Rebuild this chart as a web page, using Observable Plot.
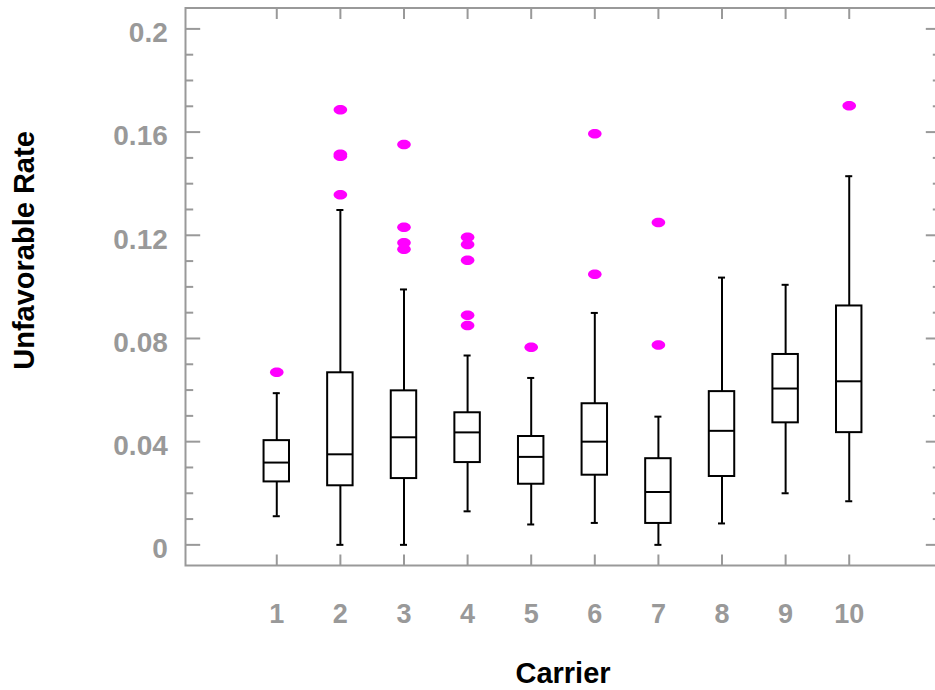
<!DOCTYPE html>
<html>
<head>
<meta charset="utf-8">
<script src="https://cdn.jsdelivr.net/npm/d3@7"></script>
<script src="https://cdn.jsdelivr.net/npm/@observablehq/plot@0.6"></script>
<style>
html, body { margin: 0; padding: 0; background: #fff; overflow: hidden; }
</style>
</head>
<body>
<div id="chart"></div>
<script>
// ---- data ----
const carriers     = [1, 2, 3, 4, 5, 6, 7, 8, 9, 10];
const whiskerLow   = [0.0111, 0.0000, 0.0000, 0.0130, 0.0079, 0.0085, 0.0000, 0.0083, 0.0200, 0.0169];
const quartile1    = [0.0244, 0.0229, 0.0257, 0.0319, 0.0235, 0.0270, 0.0083, 0.0265, 0.0473, 0.0435];
const medians      = [0.0319, 0.0351, 0.0417, 0.0436, 0.0341, 0.0400, 0.0205, 0.0442, 0.0606, 0.0634];
const quartile3    = [0.0404, 0.0667, 0.0597, 0.0512, 0.0420, 0.0547, 0.0334, 0.0594, 0.0738, 0.0926];
const whiskerHigh  = [0.0588, 0.1298, 0.0990, 0.0734, 0.0647, 0.0899, 0.0497, 0.1036, 0.1008, 0.1429];

const outlierCarrier = [1, 2, 2, 2, 2, 3, 3, 3, 3, 4, 4, 4, 4, 4, 5, 6, 6, 7, 7, 10];
const outlierValue   = [0.0669, 0.1357, 0.1506, 0.1514, 0.1687, 0.1146, 0.1171, 0.1231, 0.1552,
                        0.0850, 0.0890, 0.1103, 0.1164, 0.1192, 0.0766, 0.1049, 0.1594, 0.0775, 0.1250, 0.1702];

const yTickValues = [0, 0.04, 0.08, 0.12, 0.16, 0.2];
const yTickLabels = ["0", "0.04", "0.08", "0.12", "0.16", "0.2"];
const yMinorTicks = [0.01, 0.02, 0.03, 0.05, 0.06, 0.07, 0.09, 0.10, 0.11, 0.13, 0.14, 0.15, 0.17, 0.18, 0.19];
const xTickLabels = ["1", "2", "3", "4", "5", "6", "7", "8", "9", "10"];
const xTitle = "Carrier";
const yTitle = "Unfavorable Rate";

// ---- tables built from the arrays ----
const stats = carriers.map((c, i) => ({
  carrier: c, lo: whiskerLow[i], q1: quartile1[i], med: medians[i], q3: quartile3[i], hi: whiskerHigh[i]
}));
const outliers = outlierCarrier.map((c, i) => ({carrier: c, value: outlierValue[i]}));

// ---- styles ----
const GRAY = "#999999";
const FONT = "'Liberation Sans', Arial, Helvetica, sans-serif";

const ellipse = {
  draw(ctx, size) {
    const r = Math.sqrt(size / Math.PI);
    const rx = r * 1.36, ry = r * 0.95, k = 0.5523;
    ctx.moveTo(rx, 0);
    ctx.bezierCurveTo(rx, ry * k, rx * k, ry, 0, ry);
    ctx.bezierCurveTo(-rx * k, ry, -rx, ry * k, -rx, 0);
    ctx.bezierCurveTo(-rx, -ry * k, -rx * k, -ry, 0, -ry);
    ctx.bezierCurveTo(rx * k, -ry, rx, -ry * k, rx, 0);
    ctx.closePath();
  }
};
const lineSym = (dx, dy) => ({ draw(ctx) { ctx.moveTo(0, 0); ctx.lineTo(dx, dy); } });

const tickStyle = {fill: "none", stroke: GRAY, strokeWidth: 2, r: 3};

const chart = Plot.plot({
  width: 935,
  height: 690,
  marginLeft: 185,
  marginRight: -5,
  marginTop: 7.5,
  marginBottom: 125,
  style: {background: "#fff", fontFamily: FONT},
  x: {type: "band", domain: carriers, paddingInner: 0.6, paddingOuter: 1.235, round: false, axis: null},
  y: {domain: [-0.008, 0.2081], axis: null},
  marks: [
    Plot.frame({stroke: GRAY, strokeWidth: 2}),
    // inward ticks on the frame
    Plot.dot(yTickValues, {y: d => d, frameAnchor: "left", symbol: lineSym(14.7, 0), ...tickStyle}),
    Plot.dot(yMinorTicks, {y: d => d, frameAnchor: "left", symbol: lineSym(7.7, 0), ...tickStyle}),
    Plot.dot(yTickValues, {y: d => d, frameAnchor: "right", symbol: lineSym(-14.7, 0), ...tickStyle}),
    Plot.dot(yMinorTicks, {y: d => d, frameAnchor: "right", symbol: lineSym(-7.7, 0), ...tickStyle}),
    Plot.dot(carriers, {x: d => d, frameAnchor: "top", symbol: lineSym(0, 11), ...tickStyle}),
    Plot.dot(carriers, {x: d => d, frameAnchor: "bottom", symbol: lineSym(0, -11), ...tickStyle}),
    // tick labels
    Plot.text(yTickValues, {y: d => d, text: (d, i) => yTickLabels[i], frameAnchor: "left",
      textAnchor: "end", lineAnchor: "middle", dx: -17.7, dy: 4.3, fontSize: 28, fontWeight: "bold", fill: GRAY, fontFamily: FONT}),
    Plot.text(carriers, {x: d => d, text: (d, i) => xTickLabels[i], frameAnchor: "bottom",
      textAnchor: "middle", lineAnchor: "middle", dy: 48.7, fontSize: 27, fontWeight: "bold", fill: GRAY, fontFamily: FONT}),
    // axis titles
    Plot.text([xTitle], {text: d => d, frameAnchor: "bottom", textAnchor: "middle", lineAnchor: "middle", dy: 108.7,
      fontSize: 29, fontWeight: "bold", fill: "#000", fontFamily: FONT}),
    Plot.text([yTitle], {text: d => d, frameAnchor: "left", textAnchor: "middle", lineAnchor: "middle",
      rotate: -90, dx: -161, dy: -36.25,
      fontSize: 29, fontWeight: "bold", fill: "#000", fontFamily: FONT}),
    // whiskers
    Plot.ruleX(stats, {x: "carrier", y1: "lo", y2: "q1", stroke: "#000", strokeWidth: 2}),
    Plot.ruleX(stats, {x: "carrier", y1: "q3", y2: "hi", stroke: "#000", strokeWidth: 2}),
    Plot.tickY(stats, {x: "carrier", y: "lo", stroke: "#000", strokeWidth: 2, insetLeft: 9.2, insetRight: 9.2}),
    Plot.tickY(stats, {x: "carrier", y: "hi", stroke: "#000", strokeWidth: 2, insetLeft: 9.2, insetRight: 9.2}),
    // boxes
    Plot.barY(stats, {x: "carrier", y1: "q1", y2: "q3", fill: "#fff", stroke: "#000", strokeWidth: 2}),
    Plot.tickY(stats, {x: "carrier", y: "med", stroke: "#000", strokeWidth: 2}),
    // outliers
    Plot.dot(outliers, {x: "carrier", y: "value", r: 5, symbol: ellipse, fill: "#ff00ff", stroke: "none"})
  ]
});
document.getElementById("chart").appendChild(chart);
</script>
</body>
</html>
